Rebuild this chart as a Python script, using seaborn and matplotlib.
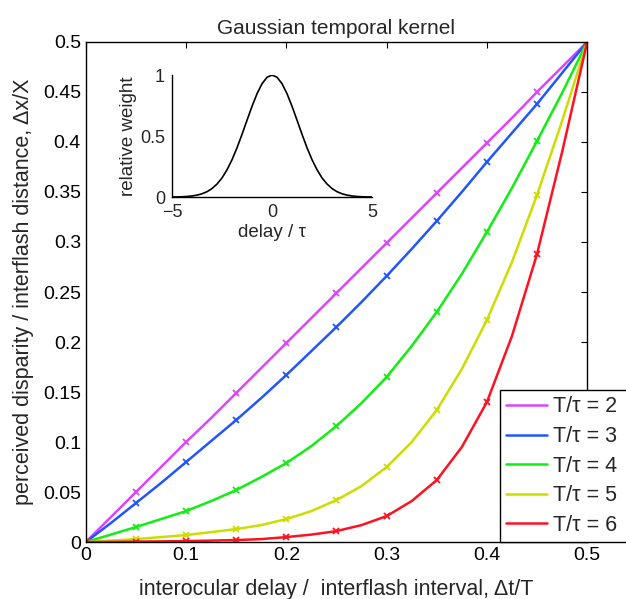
import numpy as np
import pandas as pd
import matplotlib.pyplot as plt
import seaborn as sns
from matplotlib.lines import Line2D
from matplotlib.ticker import FuncFormatter

# interocular delay / interflash interval (markers sit on every other point)
delay = [0.0, 0.025, 0.05, 0.075, 0.10, 0.125, 0.15, 0.175, 0.20, 0.225, 0.25,
         0.275, 0.30, 0.325, 0.35, 0.375, 0.40, 0.425, 0.45, 0.475, 0.50]

# perceived disparity / interflash distance for each T/tau
ratio_labels = ['T/\u03c4 = 2', 'T/\u03c4 = 3', 'T/\u03c4 = 4', 'T/\u03c4 = 5', 'T/\u03c4 = 6']
disp_2 = [0.0, 0.025, 0.050, 0.075, 0.100, 0.124, 0.149, 0.174, 0.199, 0.224, 0.249,
          0.274, 0.299, 0.324, 0.349, 0.374, 0.399, 0.424, 0.450, 0.475, 0.5]
disp_3 = [0.0, 0.019, 0.039, 0.059, 0.080, 0.101, 0.122, 0.144, 0.167, 0.191, 0.215,
          0.240, 0.266, 0.293, 0.321, 0.350, 0.380, 0.409, 0.438, 0.469, 0.5]
disp_4 = [0.0, 0.0075, 0.015, 0.023, 0.031, 0.041, 0.052, 0.065, 0.079, 0.096, 0.116,
          0.139, 0.165, 0.196, 0.230, 0.268, 0.310, 0.354, 0.401, 0.449, 0.5]
disp_5 = [0.0, 0.0015, 0.003, 0.005, 0.007, 0.010, 0.013, 0.017, 0.023, 0.031, 0.042,
          0.056, 0.075, 0.100, 0.132, 0.173, 0.222, 0.280, 0.347, 0.421, 0.5]
disp_6 = [0.0, 0.0002, 0.0005, 0.0007, 0.001, 0.0015, 0.002, 0.003, 0.005, 0.0075, 0.011,
          0.017, 0.026, 0.041, 0.062, 0.095, 0.140, 0.206, 0.288, 0.390, 0.5]
colors = ['#dd44ff', '#2255ff', '#11ee11', '#ccdd00', '#ff1122']

# inset: gaussian temporal kernel (delay / tau, relative weight)
kernel_t = [-5.0, -4.75, -4.5, -4.25, -4.0, -3.75, -3.5, -3.25, -3.0, -2.75, -2.5,
            -2.25, -2.0, -1.75, -1.5, -1.25, -1.0, -0.75, -0.5, -0.25, 0.0,
            0.25, 0.5, 0.75, 1.0, 1.25, 1.5, 1.75, 2.0, 2.25, 2.5,
            2.75, 3.0, 3.25, 3.5, 3.75, 4.0, 4.25, 4.5, 4.75, 5.0]
kernel_w = [0.0006, 0.0013, 0.0025, 0.005, 0.009, 0.016, 0.027, 0.044, 0.070, 0.107, 0.157,
            0.224, 0.306, 0.404, 0.514, 0.630, 0.744, 0.847, 0.929, 0.982, 1.0,
            0.982, 0.929, 0.847, 0.744, 0.630, 0.514, 0.404, 0.306, 0.224, 0.157,
            0.107, 0.070, 0.044, 0.027, 0.016, 0.009, 0.005, 0.0025, 0.0013, 0.0006]

series = [disp_2, disp_3, disp_4, disp_5, disp_6]
df = pd.concat([pd.DataFrame({'delay': delay, 'disparity': s, 'ratio': lab})
                for s, lab in zip(series, ratio_labels)], ignore_index=True)

sns.set_style('white')
plt.rcParams['font.family'] = ['Liberation Sans', 'DejaVu Sans']
plt.rcParams['xtick.direction'] = 'in'
plt.rcParams['ytick.direction'] = 'in'

fig = plt.figure(figsize=(6.26, 5.99), dpi=100)
ax = fig.add_axes([0.137, 0.095, 0.801, 0.835])

sns.lineplot(data=df, x='delay', y='disparity', hue='ratio', palette=colors,
             marker='x', markersize=5, lw=1.8, legend=False, ax=ax)
for line in ax.lines:
    line.set_markeredgecolor(line.get_color())
    line.set_markeredgewidth(1.3)
    line.set_markevery(2)

ax.set_xlim(0, 0.5)
ax.set_ylim(0, 0.5)
ax.set_xticks(np.arange(0, 0.51, 0.1))
ax.set_yticks(np.arange(0, 0.51, 0.05))
fmt = FuncFormatter(lambda v, p: '%g' % round(v, 3))
ax.xaxis.set_major_formatter(fmt)
ax.yaxis.set_major_formatter(fmt)
ax.tick_params(top=True, right=True, length=4, width=0.8, labelsize=14, colors='black')
for sp in ax.spines.values():
    sp.set_color('black')
    sp.set_linewidth(1.0)
ax.set_xlabel('interocular delay /  interflash interval, \u0394t/T', fontsize=15.5, labelpad=11)
ax.set_ylabel('perceived disparity / interflash distance, \u0394x/X', fontsize=15.5, labelpad=6)
ax.set_title('Gaussian temporal kernel', fontsize=15, pad=6)

# legend box runs off the right edge of the figure, as in the original
handles = [Line2D([], [], color=c, lw=1.8) for c in colors]
leg = ax.legend(handles, ratio_labels, loc='upper left', mode='expand',
                bbox_to_anchor=(500 / 626, 1 - 543 / 599, 140 / 626, 153 / 599),
                bbox_transform=fig.transFigure,
                frameon=True, fancybox=False, framealpha=1, edgecolor='black',
                borderaxespad=0, borderpad=0.3, handlelength=1.9, handletextpad=0.25,
                labelspacing=0.4, fontsize=15.5)
leg.get_frame().set_linewidth(1.0)

# inset
ins = fig.add_axes([0.2748, 0.671, 0.3195, 0.2037])
ins.patch.set_alpha(0)
sns.lineplot(x=kernel_t, y=kernel_w, color='black', lw=1.2, ax=ins)
ins.set_xlim(-5, 5)
ins.set_ylim(0, 1)
ins.set_xticks([-5, 0, 5])
ins.set_yticks([0, 0.5, 1])
ins.yaxis.set_major_formatter(fmt)
ins.tick_params(axis='x', length=3, labelsize=13, pad=5)
ins.tick_params(axis='y', length=3, labelsize=13, pad=5)
ins.spines['top'].set_visible(False)
ins.spines['right'].set_visible(False)
for sp in ['left', 'bottom']:
    ins.spines[sp].set_color('black')
    ins.spines[sp].set_linewidth(1.0)
ins.set_xlabel('delay / \u03c4', fontsize=13.5, labelpad=2)
ins.set_ylabel('relative weight', fontsize=13.5, labelpad=2)

fig.savefig('out.png', dpi=100)
